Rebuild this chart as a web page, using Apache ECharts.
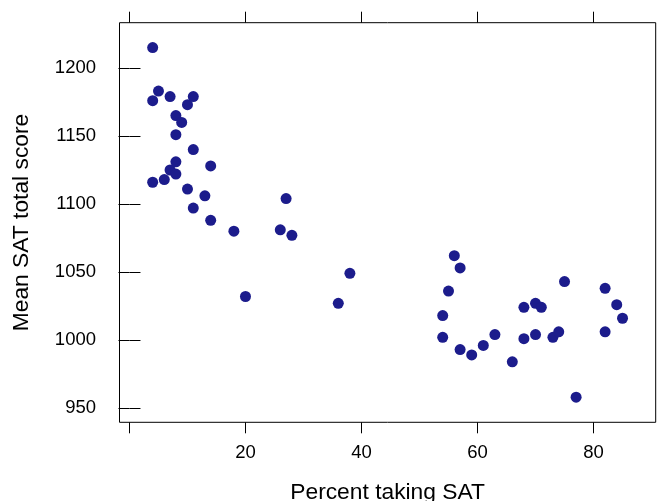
<!DOCTYPE html>
<html>
<head>
<meta charset="utf-8">
<script src="https://cdn.jsdelivr.net/npm/echarts@6/dist/echarts.min.js"></script>
<style>html,body{margin:0;padding:0;background:#fff}#c{width:657px;height:501px}</style>
</head>
<body>
<div id="c"></div>
<script>
var percentTaking = [4,5,4,7,11,10,8,9,8,11,8,14,7,8,4,6,10,13,27,11,14,18,26,28,38,20,36,56,57,55,54,54,57,59,61,63,66,68,68,70,71,70,73,74,75,77,82,82,84,85];
var meanSAT = [1215,1183,1176,1179,1179,1173,1165,1160,1151,1140,1131,1128,1125,1122,1116,1118,1111,1106,1104,1097,1088,1080,1081,1077,1049,1032,1027,1062,1053,1036,1018,1002,993,989,996,1004,984,1024,1001,1027,1024,1004,1002,1006,1043,958,1038,1006,1026,1016];
var xTicks = [0,20,40,60,80];
var xTickLabels = [20,40,60,80];
var yTicks = [950,1000,1050,1100,1150,1200];
var xTitle = 'Percent taking SAT';
var yTitle = 'Mean SAT total score';

var points = percentTaking.map(function(v,i){return [v, meanSAT[i]];});
var font = '"Liberation Sans", Arial, sans-serif';
var chart = echarts.init(document.getElementById('c'), null, {renderer:'canvas'});
var xMin = -1.72, xMax = 90.72, yMin = 939.5, yMax = 1233.3;
function plain(v){return String(Math.round(v));}
chart.setOption({
  animation:false,
  backgroundColor:'#fff',
  grid:{left:119.5, top:22.7, width:536.2, height:399.6, show:true, borderColor:'#000', borderWidth:1, backgroundColor:'transparent', containLabel:false, outerBoundsMode:'none'},
  xAxis:[{
    type:'value', position:'bottom', min:xMin, max:xMax,
    axisLine:{show:false}, splitLine:{show:false},
    axisTick:{show:true, length:11, lineStyle:{color:'#000', width:1}, customValues:xTicks},
    axisLabel:{show:true, margin:21.5, color:'#000', fontSize:18.5, fontFamily:font, customValues:xTickLabels, formatter:plain},
    name:xTitle, nameLocation:'middle', nameGap:59,
    nameTextStyle:{color:'#000', fontSize:22.8, fontFamily:font}
  },{
    type:'value', position:'top', min:xMin, max:xMax,
    axisLine:{show:false}, splitLine:{show:false},
    axisTick:{show:true, length:11, lineStyle:{color:'#000', width:1}, customValues:xTicks},
    axisLabel:{show:false}
  }],
  yAxis:[{
    type:'value', position:'left', min:yMin, max:yMax,
    axisLine:{show:false}, splitLine:{show:false},
    axisTick:{show:true, length:11, lineStyle:{color:'#000', width:1}, customValues:yTicks},
    axisLabel:{show:true, margin:23.5, color:'#000', fontSize:18.5, fontFamily:font, customValues:yTicks, formatter:plain},
    name:yTitle, nameLocation:'middle', nameGap:86, nameRotate:90,
    nameTextStyle:{color:'#000', fontSize:22.8, fontFamily:font}
  },{
    type:'value', position:'right', min:yMin, max:yMax,
    axisLine:{show:false}, splitLine:{show:false},
    axisTick:{show:true, length:11, lineStyle:{color:'#000', width:1}, customValues:yTicks},
    axisLabel:{show:false}
  }],
  series:[{
    type:'scatter', xAxisIndex:0, yAxisIndex:0,
    data:points, symbol:'circle', symbolSize:11,
    itemStyle:{color:'#1c1c8c', opacity:1}
  }]
});
</script>
</body>
</html>
